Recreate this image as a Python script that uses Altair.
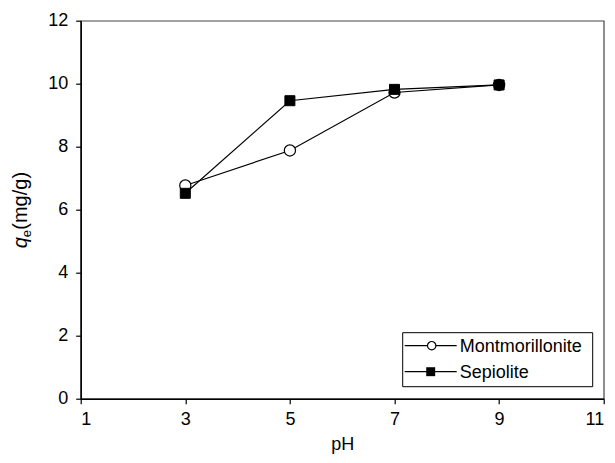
import altair as alt
import pandas as pd

ph = [3, 5, 7, 9]
montmorillonite = [6.77, 7.88, 9.72, 9.96]
sepiolite = [6.52, 9.46, 9.82, 9.96]
materials = ["Montmorillonite", "Sepiolite"]
x_ticks = [1, 3, 5, 7, 9, 11]
y_ticks = [0, 2, 4, 6, 8, 10, 12]

df = pd.DataFrame({
    "pH": ph * 2,
    "qe": montmorillonite + sepiolite,
    "material": [materials[0]] * 4 + [materials[1]] * 4,
})

FONT = "Liberation Sans"
FS = 18

xscale = alt.Scale(domain=[1, 11], nice=False, zero=False)
yscale = alt.Scale(domain=[0, 12], nice=False)

xax = alt.Axis(values=x_ticks, title="pH", grid=False, tickSize=5, labelPadding=7,
               titlePadding=7, format="d")
yax = alt.Axis(values=y_ticks, title=None, grid=False, tickSize=5, labelPadding=8, format="d")

base = alt.Chart(df)
X = alt.X("pH:Q", scale=xscale, axis=xax)
Y = alt.Y("qe:Q", scale=yscale, axis=yax)

line_m = base.transform_filter(alt.datum.material == materials[0]).mark_line(
    color="black", strokeWidth=1.2).encode(x=X, y=Y)
line_s = base.transform_filter(alt.datum.material == materials[1]).mark_line(
    color="black", strokeWidth=1.2).encode(x=X, y=Y)
pts_m = base.transform_filter(alt.datum.material == materials[0]).mark_point(
    shape="circle", size=125, filled=True, fill="white", stroke="black", strokeWidth=1.2,
    opacity=1).encode(x=X, y=Y)
pts_s = base.transform_filter(alt.datum.material == materials[1]).mark_point(
    shape="square", size=100, filled=True, fill="black", stroke="black", strokeWidth=1,
    opacity=1).encode(x=X, y=Y)

one = pd.DataFrame({"m": [materials[0]]})
two = pd.DataFrame({"m": [materials[1]]})

# y-axis title: q (italic) e (subscript) (mg/g)
t_q = alt.Chart(one).mark_text(text="q", angle=270, align="left", baseline="alphabetic",
                               font=FONT, fontSize=20, fontStyle="italic", color="black").encode(
    x=alt.value(-54), y=alt.value(227.5))
t_e = alt.Chart(one).mark_text(text="e", angle=270, align="left", baseline="alphabetic",
                               font=FONT, fontSize=13, color="black").encode(
    x=alt.value(-49.5), y=alt.value(216.5))
t_u = alt.Chart(one).mark_text(text="(mg/g)", angle=270, align="left", baseline="alphabetic",
                               font=FONT, fontSize=20, color="black").encode(
    x=alt.value(-54), y=alt.value(209))

# legend
leg_box = alt.Chart(one).mark_rect(fill="white", stroke="black", strokeWidth=1).encode(
    x=alt.value(322), x2=alt.value(512), y=alt.value(312), y2=alt.value(366))
leg_l1 = alt.Chart(one).mark_rule(color="black", strokeWidth=1.2).encode(
    x=alt.value(324), x2=alt.value(376), y=alt.value(325))
leg_l2 = alt.Chart(two).mark_rule(color="black", strokeWidth=1.2).encode(
    x=alt.value(324), x2=alt.value(376), y=alt.value(351))
leg_p1 = alt.Chart(one).mark_point(shape="circle", size=70, filled=True, fill="white",
                                   stroke="black", strokeWidth=1.2, opacity=1).encode(
    x=alt.value(351), y=alt.value(325))
leg_p2 = alt.Chart(two).mark_point(shape="square", size=80, filled=True, fill="black",
                                   opacity=1).encode(
    x=alt.value(350), y=alt.value(351))
leg_t1 = alt.Chart(one).mark_text(align="left", baseline="middle", font=FONT, fontSize=FS,
                                  color="black").encode(
    x=alt.value(379), y=alt.value(326), text="m:N")
leg_t2 = alt.Chart(two).mark_text(align="left", baseline="middle", font=FONT, fontSize=FS,
                                  color="black").encode(
    x=alt.value(379), y=alt.value(352), text="m:N")

chart = alt.layer(
    line_m, line_s, pts_m, pts_s,
    t_q, t_e, t_u,
    leg_box, leg_l1, leg_l2, leg_p1, leg_p2, leg_t1, leg_t2,
).properties(
    width=523, height=378,
    autosize=alt.AutoSizeParams(type="none"),
    padding={"left": 72.7, "top": 12.7, "right": 3.3, "bottom": 56.3},
).configure_view(
    stroke="#444", strokeWidth=1.2
).configure_axis(
    labelFont=FONT, labelFontSize=FS, labelColor="black",
    titleFont=FONT, titleFontSize=FS, titleFontWeight="normal", titleColor="black",
    domainColor="black", domainWidth=1.5, tickColor="black", tickWidth=1.2,
)

chart.save("out.html", embed_options={"renderer": "svg", "actions": False})
